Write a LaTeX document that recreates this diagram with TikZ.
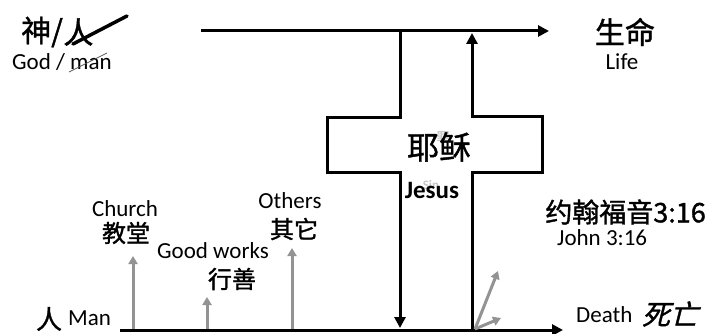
\documentclass[tikz,border=0pt]{standalone}
\usepackage{fontspec}
\setmainfont{Carlito}
\newfontfamily\cjk{Noto Sans CJK SC}[FakeBold=1.3]
\newfontfamily\cjkslant{Noto Sans CJK SC}[FakeSlant=0.25, FakeBold=1.3]
\usetikzlibrary{positioning}
\usetikzlibrary{arrows.meta}

\begin{document}
\begin{tikzpicture}
		[x=1pt, y=-1pt,
		 zh/.style={font=\cjk\fontsize{#1}{#1}\selectfont, inner sep=0pt},
		 zh/.default=24,
		 en/.style={font=\fontsize{#1}{#1}\selectfont, inner sep=0pt},
		 en/.default=23,
		 way/.style={line width=3pt, -{Triangle[length=11pt, width=11pt]}},
		 aid/.style={draw=gray!85, line width=3pt, -{Triangle[length=8pt, width=9pt]}},
		 ghost/.style={text=gray!45, inner sep=0pt}]
		\useasboundingbox (0,0) rectangle (709,334);

		% the two lines
		\coordinate (topL) at (201,31);
		\coordinate (topR) at (549,31);
		\coordinate (botL) at (120,330);
		\coordinate (botR) at (563,330);
		\draw[way] (topL) -- (topR);
		\draw[way] (botL) -- (botR);

		% the cross
		\coordinate (crossTL) at (400,31);
		\coordinate (armLT) at (327,118);
		\coordinate (armLB) at (327,172);
		\coordinate (crossBL) at (400,328);
		\coordinate (crossBR) at (472,331);
		\coordinate (armRB) at (542,172);
		\coordinate (armRT) at (542,117);
		\coordinate (crossTR) at (472,33);
		\draw[way] (crossTL) |- (armLT) -- (armLB) -| (crossBL);
		\draw[way] (crossBR) |- (armRB) -- (armRT) -| (crossTR);

		% small tries from below
		\coordinate (churchFoot) at (133,329);
		\coordinate (churchTop) at (133,256);
		\coordinate (worksFoot) at (207,329);
		\coordinate (worksTop) at (207,297);
		\coordinate (othersFoot) at (292,329);
		\coordinate (othersTop) at (292,248);
		\coordinate (deathFoot) at (475,329);
		\coordinate (riseHigh) at (498,271);
		\coordinate (riseLow) at (501,318);
		\draw[aid] (churchFoot) -- (churchTop);
		\draw[aid] (worksFoot) -- (worksTop);
		\draw[aid] (othersFoot) -- (othersTop);
		\draw[aid] (deathFoot) -- (riseHigh);
		\draw[aid] (deathFoot) -- (riseLow);

		% labels
		\node[zh=30, anchor=west] (god-zh) at (21,32) {神/};
		\node[zh=30, right=0pt of god-zh] (man-zh) {人};
		\coordinate (cutA) at (73,44);
		\coordinate (cutB) at (127,16);
		\draw[line width=3.5pt, line cap=round] (cutA) -- (cutB);
		\node[en, anchor=base west] (god-en) at (12,70) {God / man};
		\coordinate (slashA) at (69,72);
		\coordinate (slashB) at (107,53);
		\draw[line width=0.8pt, gray!70!black] (slashA) -- (slashB);

		\node[zh=30] (life-zh) at (625,32) {生命};
		\node[en, anchor=base] (life-en) at (622,70) {Life};

		\node[ghost, font=\cjk\fontsize{13}{13}\selectfont] (sin-zh) at (443,137) {罪};
		\node[ghost, font=\bfseries\fontsize{13}{13}\selectfont] (sin-en) at (431,185) {Sin};
		\node[zh=32] (jesus-zh) at (439,147) {耶稣};
		\node[en, anchor=base, font=\bfseries\fontsize{25}{25}\selectfont] (jesus-en) at (432,198) {Jesus};

		\node[zh=27, anchor=east] (verse-zh) at (706,212) {约翰福音3:16};
		\node[en, anchor=base west] (verse-en) at (557,245) {John 3:16};

		\node[en, anchor=base] (church-en) at (125,216) {Church};
		\node[zh] (church-zh) at (126,233) {教堂};
		\node[en, anchor=base] (works-en) at (213,258) {Good works};
		\node[zh] (works-zh) at (232,279) {行善};
		\node[en, anchor=base] (others-en) at (290,208) {Others};
		\node[zh] (others-zh) at (294,229) {其它};

		\node[zh=26] (man-l) at (49,319) {人};
		\node[en, anchor=base west] (man-en) at (68,325) {Man};
		\node[en, anchor=base west] (death-en) at (576,322) {Death};
		\node[zh=28, font=\cjkslant\fontsize{28}{28}\selectfont] (death-zh) at (670,314) {死亡};
	\end{tikzpicture}
\end{document}
